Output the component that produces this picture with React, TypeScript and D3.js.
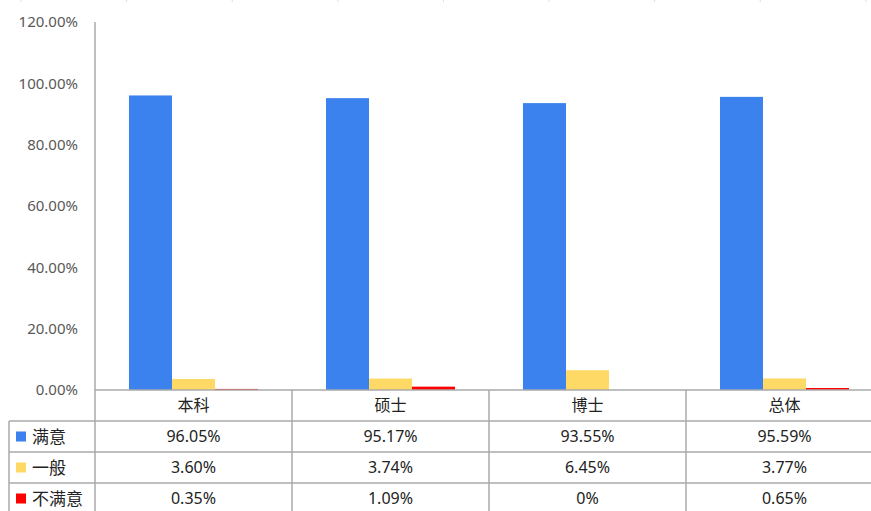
import React, { useRef, useEffect } from "react";
import * as d3 from "d3";

const categories = ["本科", "硕士", "博士", "总体"];
const seriesNames = ["满意", "一般", "不满意"];
const seriesColors = ["#3b82ee", "#ffd966", "#ff0000"];
const satisfied = [96.05, 95.17, 93.55, 95.59];
const neutral = [3.6, 3.74, 6.45, 3.77];
const unsatisfied = [0.35, 1.09, 0, 0.65];
const valueLabels = [
  ["96.05%", "95.17%", "93.55%", "95.59%"],
  ["3.60%", "3.74%", "6.45%", "3.77%"],
  ["0.35%", "1.09%", "0%", "0.65%"],
];
const yTicks = [0, 20, 40, 60, 80, 100, 120];

const App = () => {
  const svgRef = useRef<SVGSVGElement>(null);

  useEffect(() => {
    const width = 871;
    const height = 511;
    const margin = { left: 95, top: 22, bottom: 390 };
    const colW = 197;
    const rowH = 31;
    const lineColor = "#aaaaaa";
    const font = "'Noto Sans', 'Noto Sans CJK SC', sans-serif";

    const svg = d3.select(svgRef.current);
    svg.selectAll("*").remove();
    svg.attr("width", width).attr("height", height);

    const values = [satisfied, neutral, unsatisfied];

    const x = d3
      .scaleBand<string>()
      .domain(categories)
      .range([margin.left, margin.left + colW * categories.length])
      .padding(0);

    const xInner = d3
      .scaleBand<string>()
      .domain(seriesNames)
      .range([0, x.bandwidth()])
      .paddingInner(0)
      .paddingOuter(0.79);

    const y = d3.scaleLinear().domain([0, 120]).range([margin.bottom, margin.top]);

    // faint marks along the top edge
    d3.range(9).forEach((i) => {
      svg
        .append("line")
        .attr("x1", 21 + i * 105.6)
        .attr("x2", 21 + i * 105.6)
        .attr("y1", 0)
        .attr("y2", 2)
        .attr("stroke", "#dddddd")
        .attr("stroke-width", 1);
    });

    // bars
    categories.forEach((c, ci) => {
      seriesNames.forEach((s, si) => {
        const v = values[si][ci];
        if (v <= 0) return;
        svg
          .append("rect")
          .attr("x", (x(c) as number) + (xInner(s) as number))
          .attr("y", y(v))
          .attr("width", xInner.bandwidth())
          .attr("height", y(0) - y(v))
          .attr("fill", seriesColors[si]);
      });
    });

    // y axis
    const yAxis = svg
      .append("g")
      .attr("transform", `translate(${margin.left},0)`)
      .call(
        d3
          .axisLeft(y)
          .tickValues(yTicks)
          .tickSize(0)
          .tickPadding(17)
          .tickFormat((d) => `${(+d).toFixed(2)}%`)
      );
    yAxis.select(".domain").remove();
    yAxis
      .selectAll("text")
      .attr("font-family", font)
      .attr("font-size", "15px")
      .attr("fill", "#595959");

    // table lines
    const tableRight = width;
    const rowTops = d3.range(4).map((i) => margin.bottom + rowH + i * rowH);
    const line = (x1: number, y1: number, x2: number, y2: number) =>
      svg
        .append("line")
        .attr("x1", x1)
        .attr("x2", x2)
        .attr("y1", y1)
        .attr("y2", y2)
        .attr("stroke", lineColor)
        .attr("stroke-width", 1.5);

    line(margin.left, margin.top, margin.left, height);
    line(margin.left, margin.bottom, tableRight, margin.bottom);
    rowTops.forEach((ry) => line(9, ry, tableRight, ry));
    line(9, rowTops[0], 9, height);
    categories.slice(1).forEach((c) => line(x(c) as number, margin.bottom, x(c) as number, height));

    // category labels
    categories.forEach((c) => {
      svg
        .append("text")
        .attr("x", (x(c) as number) + x.bandwidth() / 2)
        .attr("y", margin.bottom + rowH / 2)
        .attr("dy", "0.36em")
        .attr("text-anchor", "middle")
        .attr("font-family", font)
        .attr("font-size", "16px")
        .attr("fill", "#222")
        .text(c);
    });

    // legend + values
    seriesNames.forEach((s, si) => {
      const cy = rowTops[si] + rowH / 2;
      svg
        .append("rect")
        .attr("x", 16)
        .attr("y", cy - 5)
        .attr("width", 10)
        .attr("height", 10)
        .attr("fill", seriesColors[si]);
      svg
        .append("text")
        .attr("x", 32)
        .attr("y", cy)
        .attr("dy", "0.36em")
        .attr("font-family", font)
        .attr("font-size", "17px")
        .attr("fill", "#222")
        .text(s);
      categories.forEach((c, ci) => {
        svg
          .append("text")
          .attr("x", (x(c) as number) + x.bandwidth() / 2)
          .attr("y", cy)
          .attr("dy", "0.36em")
          .attr("text-anchor", "middle")
          .attr("font-family", font)
          .attr("font-size", "16px")
          .attr("fill", "#222")
          .text(valueLabels[si][ci]);
      });
    });
  }, []);

  return (
    <div
      style={{
        position: "absolute",
        left: 0,
        top: 0,
        width: 871,
        height: 511,
        background: "#fff",
        overflow: "hidden",
      }}
    >
      <svg ref={svgRef} style={{ display: "block" }} />
    </div>
  );
};

export default App;
